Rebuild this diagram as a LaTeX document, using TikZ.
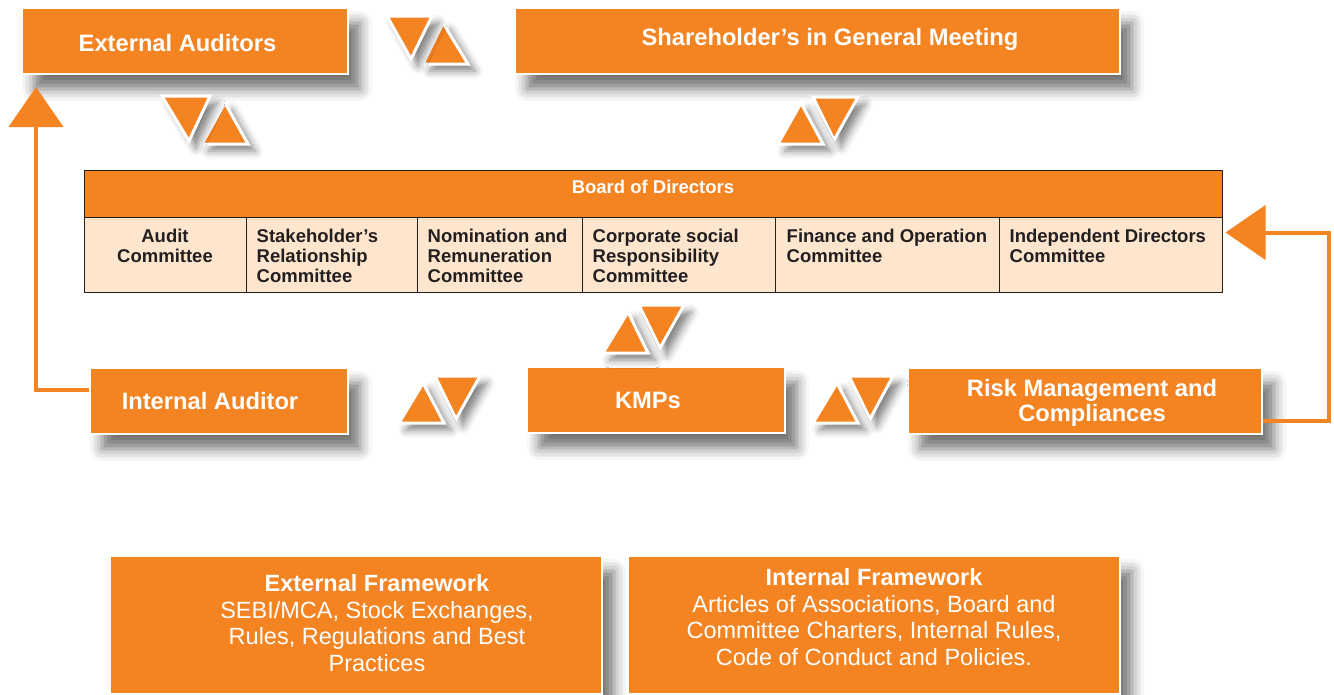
\documentclass[tikz,border=0pt]{standalone}
\usepackage{fontspec}
\setmainfont{Liberation Sans}
\usetikzlibrary{arrows.meta,shadows.blur}
\definecolor{org}{RGB}{244,131,33}
\definecolor{peach}{RGB}{253,230,205}
\definecolor{ink}{RGB}{35,31,32}
\begin{document}
\begin{tikzpicture}[x=1pt,y=-1pt,
  box/.style={fill=org, draw=white, line width=2pt, inner sep=0pt,
    blur shadow={shadow xshift=12pt, shadow yshift=-15pt, shadow blur radius=12pt, shadow opacity=55}},
  big/.style={font=\fontsize{23.7}{25}\selectfont\bfseries, text=white, align=center, inner sep=0pt},
  foot/.style={font=\fontsize{23.5}{26.5}\selectfont, text=white, align=center, inner sep=0pt},
  hdr/.style={fill=org, draw=ink, line width=1pt, inner sep=0pt},
  cell/.style={fill=peach, draw=ink, line width=1pt, inner sep=0pt, minimum height=75pt},
  ctext/.style={font=\fontsize{18.5}{20}\selectfont\bfseries, text=ink, inner sep=0pt},
  tri/.style={fill=org, draw=white, line width=3pt, line join=miter,
    blur shadow={shadow xshift=7pt, shadow yshift=-7pt, shadow blur radius=8pt, shadow opacity=50}},
  conn/.style={draw=org, line width=4pt, -{Triangle[width=54pt,length=40pt]}}
]
\useasboundingbox (0,0) rectangle (1334,694);

% boxes
\node[box, minimum width=326pt, minimum height=66pt] (ea) at (185,41) {};
\node[big] (ea-t) at (177.5,43.5) {External Auditors};
\node[box, minimum width=605pt, minimum height=66pt] (sh) at (817.5,41) {};
\node[big] (sh-t) at (830,39.5) {Shareholder’s in General Meeting};
\node[box, minimum width=258pt, minimum height=66pt] (ia) at (219,401) {};
\node[big] (ia-t) at (210,401) {Internal Auditor};
\node[box, minimum width=258pt, minimum height=66pt] (kmp) at (656,400) {};
\node[big] (kmp-t) at (648,400) {KMPs};
\node[box, minimum width=354pt, minimum height=66pt] (risk) at (1085,401) {};
\node[big] (risk-t) at (1092,403) {Risk Management and\\Compliances};
\node[box, minimum width=492pt, minimum height=138pt] (extf) at (356,625) {};
\node[foot] (extf-t) at (377,623) {\bfseries External Framework\\SEBI/MCA, Stock Exchanges,\\Rules, Regulations and Best\\Practices};
\node[box, minimum width=492pt, minimum height=138pt] (intf) at (874,625) {};
\node[foot] (intf-t) at (874,617) {\bfseries Internal Framework\\Articles of Associations, Board and\\Committee Charters, Internal Rules,\\Code of Conduct and Policies.};

% table
\node[hdr, minimum width=1138pt, minimum height=47pt] (bod) at (653,193.5) {};
\node[ctext, text=white] (bod-t) at (653,187) {Board of Directors};
\node[cell, minimum width=162pt] (c1) at (165,254.5) {};
\node[cell, minimum width=171pt] (c2) at (331.5,254.5) {};
\node[cell, minimum width=165pt] (c3) at (499.5,254.5) {};
\node[cell, minimum width=193pt] (c4) at (678.5,254.5) {};
\node[cell, minimum width=224pt] (c5) at (887,254.5) {};
\node[cell, minimum width=223pt] (c6) at (1110.5,254.5) {};
\node[ctext, align=center, anchor=north] (t1) at ([shift={(0,12.5)}]c1.north) {Audit\\Committee};
\node[ctext, align=left, anchor=north west] (t2) at ([shift={(11,12.5)}]c2.north west) {Stakeholder’s\\Relationship\\Committee};
\node[ctext, align=left, anchor=north west] (t3) at ([shift={(11,12.5)}]c3.north west) {Nomination and\\Remuneration\\Committee};
\node[ctext, align=left, anchor=north west] (t4) at ([shift={(11,12.5)}]c4.north west) {Corporate social\\Responsibility\\Committee};
\node[ctext, align=left, anchor=north west] (t5) at ([shift={(12,12.5)}]c5.north west) {Finance and Operation\\Committee};
\node[ctext, align=left, anchor=north west] (t6) at ([shift={(11,12.5)}]c6.north west) {Independent Directors\\Committee};

% triangle pairs (right one first)
\draw[tri] (423,64) -- (468,64) -- (443,23) -- cycle;
\draw[tri] (387,16) -- (432,16) -- (411,59) -- cycle;
\draw[tri] (202,144) -- (248,144) -- (225,103) -- cycle;
\draw[tri] (162,96) -- (210,96) -- (189,141) -- cycle;
\draw[tri] (813,97) -- (858,97) -- (834,140) -- cycle;
\draw[tri] (778,144) -- (823,144) -- (801,103) -- cycle;
\draw[tri] (639,305) -- (684,305) -- (660,348) -- cycle;
\draw[tri] (603,353) -- (648,353) -- (628,312) -- cycle;
\draw[tri] (435,376) -- (480,376) -- (456,419) -- cycle;
\draw[tri] (399,423) -- (444,423) -- (423,383) -- cycle;
\draw[tri] (849,376) -- (893,376) -- (870,419) -- cycle;
\draw[tri] (813,423) -- (858,423) -- (837,383) -- cycle;

% connectors
\coordinate (lt) at (36,87);
\draw[conn] ([yshift=11pt]ia.west) -| (lt);
\draw[conn] ([yshift=-20pt]risk.east) -- ++(66,0) |- ([xshift=3pt,yshift=22pt]c6.east);
\end{tikzpicture}
\end{document}
